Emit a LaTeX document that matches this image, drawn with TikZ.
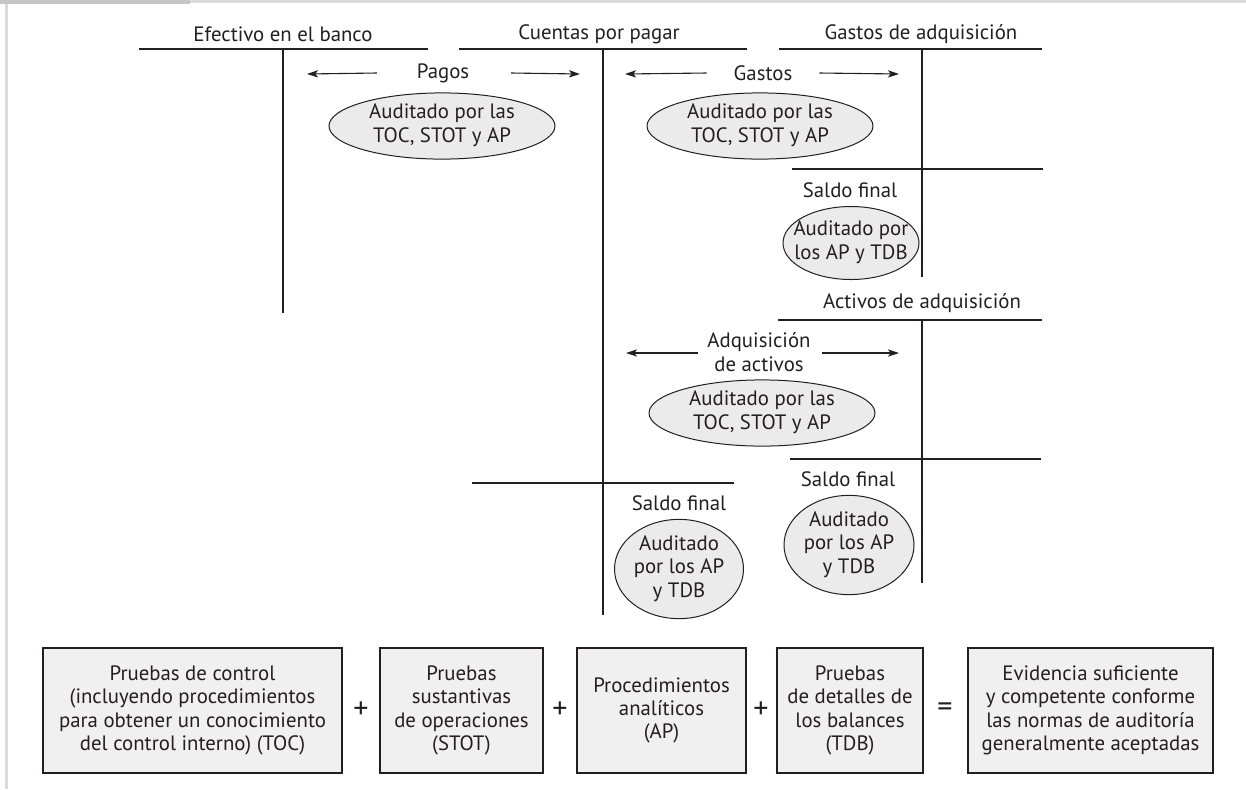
\documentclass[tikz,border=0pt]{standalone}
\usepackage{fontspec}
\setmainfont{PT Sans}
\usetikzlibrary{positioning,shapes.geometric,arrows.meta}
\definecolor{Tinta}{HTML}{231F20}
\definecolor{FondoElipse}{HTML}{EBEBEB}
\definecolor{FondoCaja}{HTML}{F0F0F0}
\definecolor{MarcoGris}{HTML}{DADADA}
\definecolor{MarcoOscuro}{HTML}{C6C6C6}
\newcommand{\enlineas}[1]{\makebox[0pt]{\begin{tabular}{@{}c@{}}#1\end{tabular}}}

\begin{document}
\begin{tikzpicture}[x=0.5pt, y=-0.5pt, font=\fontsize{10.4}{11.7}\selectfont, text=Tinta,
    flecha/.style={-{Stealth[length=5.5pt,width=3.6pt,inset=1.3pt]}, draw=Tinta, line width=0.55pt},
    elipse/.style 2 args={ellipse, draw=Tinta, line width=0.5pt, fill=FondoElipse, inner sep=0pt, minimum width=#1, minimum height=#2},
    caja/.style={rectangle, draw=Tinta, line width=0.7pt, fill=FondoCaja, align=center, inner sep=0pt, minimum height=62.5pt},
    signo/.style={font=\fontsize{15}{16}\selectfont}]
    \useasboundingbox (0,0) rectangle (1246,789);
    % marco gris
    \fill[MarcoGris] (190,0) rectangle (1246,3);
    \fill[MarcoOscuro] (0,0) rectangle (190,4);
    \fill[MarcoGris] (5,4) rectangle (7.5,789);
    % cuentas T
    \foreach \xa/\xb/\y in {139/428/49, 459/747/49, 779/1042/49, 792/1043/169, 778/1042/320, 790/1041/459, 472/734/483}
    \draw[Tinta, line width=0.65pt] (\xa,\y) -- (\xb,\y);
    \foreach \x/\ya/\yb in {283/49/313, 603/49/615, 922/49/277, 922/320/583}
    \draw[Tinta, line width=0.65pt] (\x,\ya) -- (\x,\yb);
    \node (efectivo) at (283,34) {Efectivo en el banco};
    \node (cuentas) at (599,34) {Cuentas por pagar};
    \node (gastosadq) at (921,34) {Gastos de adquisición};
    \node (activosadq) at (922,303) {Activos de adquisición};
    % flechas
    \node (pagos) at (443,73) {Pagos};
    \node (gastos) at (763,73) {Gastos};
    \node[align=center] (adqactivos) at (759,352) {Adquisición\\de activos};
    \coordinate (pagosI) at (307,74);
    \coordinate (pagosD) at (580,74);
    \coordinate (gastosI) at (625,74);
    \coordinate (gastosD) at (899,74);
    \coordinate (adqI) at (626,353);
    \coordinate (adqD) at (899,353);
    \draw[flecha] ([xshift=-16.5pt]pagos.west) -- (pagosI);
    \draw[flecha] ([xshift=17.5pt]pagos.east) -- (pagosD);
    \draw[flecha] ([xshift=-10pt]gastos.west) -- (gastosI);
    \draw[flecha] ([xshift=10pt]gastos.east) -- (gastosD);
    \draw[flecha] ([xshift=-1pt,yshift=-0.5pt]adqactivos.west) -- (adqI);
    \draw[flecha] ([xshift=2pt,yshift=-0.5pt]adqactivos.east) -- (adqD);
    % elipses
    \node[elipse={113pt}{33pt}] (audpagos) at (442,126) {\enlineas{Auditado por las\\TOC, STOT y AP}};
    \node[elipse={113pt}{33pt}] (audgastos) at (760,126) {\enlineas{Auditado por las\\TOC, STOT y AP}};
    \node[elipse={113pt}{33pt}] (audactivos) at (762,413) {\enlineas{Auditado por las\\TOC, STOT y AP}};
    \node (saldogastos) at (850,190) {Saldo final};
    \node[elipse={68pt}{36.5pt}] (audsaldogastos) at (851,243) {\enlineas{Auditado por\\los AP y TDB}};
    \node (saldoactivos) at (848,479) {Saldo final};
    \node[elipse={65pt}{45pt}] (audsaldoactivos) at (849,545) {\enlineas{Auditado\\por los AP\\y TDB}};
    \node (saldocuentas) at (679,503) {Saldo final};
    \node[elipse={64.5pt}{46pt}] (audsaldocuentas) at (679,569) {\enlineas{Auditado\\por los AP\\y TDB}};
    % pruebas
    \node[caja, minimum width=149.5pt] (toc) at (192.5,710.5) {Pruebas de control\\(incluyendo procedimientos\\para obtener un conocimiento\\del control interno) (TOC)};
    \node[caja, minimum width=81.5pt] (stot) at (461.5,710.5) {Pruebas\\sustantivas\\de operaciones\\(STOT)};
    \node[caja, minimum width=84.5pt] (ap) at (661.5,710.5) {Procedimientos\\analíticos\\(AP)};
    \node[caja, minimum width=73pt] (tdb) at (850,710.5) {Pruebas\\de detalles de\\los balances\\(TDB)};
    \node[caja, line width=1.2pt, minimum width=122.5pt] (evidencia) at (1090.5,710.5) {Evidencia suficiente\\y competente conforme\\las normas de auditoría\\generalmente aceptadas};
    \node[signo] (mas1) at (361,710) {+};
    \node[signo] (mas2) at (560,710) {+};
    \node[signo] (mas3) at (761,710) {+};
    \node[signo] (igual) at (945,710) {=};
\end{tikzpicture}
\end{document}
